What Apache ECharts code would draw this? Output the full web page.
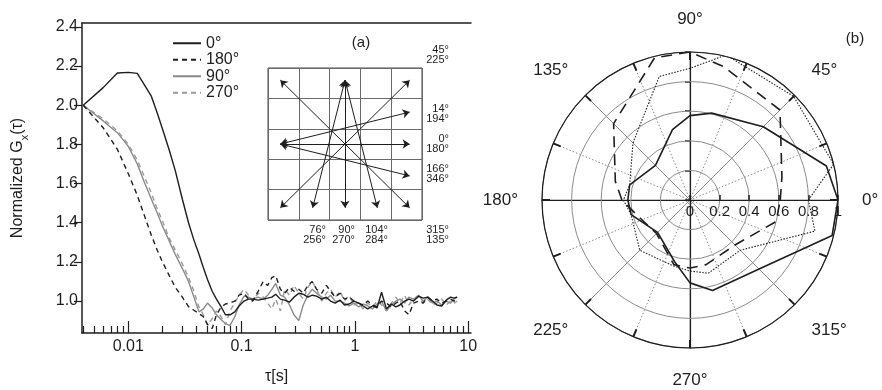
<!DOCTYPE html>
<html>
<head>
<meta charset="utf-8">
<script src="https://cdn.jsdelivr.net/npm/echarts@6/dist/echarts.min.js"></script>
<style>
  html, body { margin: 0; padding: 0; background: #fff; }
  #chart { width: 882px; height: 390px; }
</style>
</head>
<body>
<div id="chart"></div>
<script>
// (a) normalized autocorrelation vs lag time
const tau = [0.004, 0.006, 0.008, 0.010, 0.012, 0.014, 0.016, 0.018, 0.020, 0.023,
  0.026, 0.030, 0.034, 0.038, 0.042, 0.046, 0.050, 0.055, 0.060, 0.066,
  0.072, 0.079, 0.087, 0.095, 0.105, 0.115, 0.125, 0.14, 0.155, 0.17,
  0.185, 0.20, 0.22, 0.24, 0.265, 0.29, 0.32, 0.35, 0.385, 0.42,
  0.46, 0.51, 0.56, 0.61, 0.67, 0.74, 0.81, 0.89, 0.98, 1.08,
  1.18, 1.3, 1.43, 1.57, 1.72, 1.9, 2.1, 2.3, 2.5, 2.75,
  3.0, 3.3, 3.65, 4.0, 4.4, 4.85, 5.3, 5.85, 6.4, 7.0, 7.5, 8.0];
const g0 = [2.00, 2.09, 2.165, 2.168, 2.163, 2.10, 2.045, 1.96, 1.88, 1.77,
  1.665, 1.52, 1.40, 1.31, 1.24, 1.17, 1.11, 1.05, 1.01, 0.97,
  0.93, 0.93, 0.945, 0.975, 1.00, 1.01, 1.01, 1.005, 1.01, 1.015,
  1.02, 1.035, 1.01, 1.005, 0.995, 1.02, 1.04, 1.035, 1.02, 1.03,
  1.025, 1.01, 1.02, 1.00, 0.99, 1.005, 0.98, 0.985, 1.00, 0.99,
  0.975, 0.96, 0.975, 0.965, 1.045, 0.96, 0.985, 0.97, 0.98, 1.00,
  1.01, 1.00, 1.025, 1.015, 1.02, 1.00, 0.98, 0.975, 1.005, 1.02, 1.015, 1.02];
const g180 = [2.00, 1.885, 1.775, 1.65, 1.54, 1.43, 1.335, 1.26, 1.20, 1.13,
  1.07, 1.02, 0.972, 0.953, 0.936, 0.92, 0.88, 0.86, 0.93, 0.97,
  0.985, 0.99, 1.00, 1.03, 1.04, 1.01, 1.00, 1.05, 1.10, 1.08,
  1.12, 1.13, 1.06, 1.04, 1.07, 1.05, 1.06, 1.04, 1.08, 1.10,
  1.06, 1.04, 1.08, 1.05, 1.02, 1.04, 1.01, 1.02, 1.00, 0.99,
  0.98, 1.00, 0.98, 0.97, 1.00, 0.99, 0.97, 0.99, 1.00, 0.95,
  0.93, 0.99, 1.00, 0.99, 1.02, 1.00, 1.01, 0.99, 1.00, 1.01, 1.00, 1.01];
const g90 = [2.00, 1.92, 1.86, 1.79, 1.70, 1.60, 1.52, 1.45, 1.383, 1.306,
  1.238, 1.166, 1.10, 1.02, 0.945, 0.96, 0.99, 0.965, 0.93, 0.905,
  0.885, 0.875, 0.92, 0.98, 1.025, 1.02, 1.01, 1.02, 1.01, 1.03,
  1.06, 1.09, 1.03, 1.02, 0.98, 0.93, 0.90, 0.98, 1.03, 1.06,
  1.04, 1.02, 1.01, 1.03, 1.00, 1.00, 0.99, 0.975, 0.99, 0.97,
  0.985, 0.975, 0.96, 0.985, 1.00, 0.95, 0.98, 1.00, 1.01, 0.99,
  1.02, 1.01, 1.03, 1.00, 1.02, 0.99, 1.00, 0.98, 1.00, 0.99, 1.01, 1.02];
const g270 = [2.00, 1.93, 1.87, 1.80, 1.72, 1.63, 1.55, 1.47, 1.41, 1.32,
  1.26, 1.19, 1.12, 1.05, 0.97, 0.93, 0.88, 0.91, 0.95, 0.92,
  0.88, 0.95, 0.99, 1.03, 1.06, 1.03, 1.00, 1.04, 1.02, 0.99,
  0.96, 1.01, 0.95, 1.06, 1.03, 1.08, 1.04, 1.01, 1.07, 1.10,
  1.06, 1.00, 1.04, 1.06, 1.02, 1.05, 1.00, 1.03, 0.98, 0.99,
  0.96, 0.99, 0.97, 1.00, 0.98, 0.95, 0.99, 1.02, 0.99, 1.03,
  0.98, 1.01, 1.02, 0.99, 1.01, 0.98, 0.99, 1.01, 0.98, 1.00, 0.99, 1.00];
const seriesNames = ['0°', '180°', '90°', '270°'];
const yTicks = [1.0, 1.2, 1.4, 1.6, 1.8, 2.0, 2.2, 2.4];
const xMajor = [0.01, 0.1, 1, 10];
const xMinor = [0.004, 0.005, 0.006, 0.007, 0.008, 0.009,
  0.02, 0.03, 0.04, 0.05, 0.06, 0.07, 0.08, 0.09,
  0.2, 0.3, 0.4, 0.5, 0.6, 0.7, 0.8, 0.9,
  2, 3, 4, 5, 6, 7, 8, 9];

// inset: double-headed arrows in grid cells [x1, y1, x2, y2]
const arrows = [
  [0.4, 0.4, 4.6, 4.6],
  [0.4, 4.6, 4.6, 0.4],
  [0.4, 2.5, 4.6, 2.5],
  [0.4, 2.5, 4.6, 3.55],
  [0.4, 2.5, 4.6, 1.45],
  [2.5, 4.6, 2.5, 0.4],
  [2.5, 4.6, 1.45, 0.4],
  [2.5, 4.6, 3.55, 0.4]
];
const sideLabels = [['45°', '225°'], ['14°', '194°'], ['0°', '180°'], ['166°', '346°'], ['315°', '135°']];
const bottomLabels = [['76°', '256°'], ['90°', '270°'], ['104°', '284°']];

// (b) polar amplitude vs direction
const polarAngles = [0, 14, 45, 76, 90, 104, 135, 166, 180, 194, 225, 256, 270, 284, 315, 346];
const rSolid = [1.0, 0.95, 0.70, 0.605, 0.57, 0.49, 0.33, 0.42, 0.42, 0.41, 0.31, 0.43, 0.56, 0.63, 0.66, 0.99];
const rDashed = [0.61, 0.64, 0.86, 0.93, 1.0, 0.99, 0.73, 0.52, 0.46, 0.38, 0.32, 0.45, 0.46, 0.45, 0.43, 0.60];
const rDotted = [0.80, 1.0, 0.99, 1.01, 0.89, 0.86, 0.545, 0.42, 0.45, 0.41, 0.48, 0.46, 0.48, 0.51, 0.48, 0.87];

const FONT = "'Liberation Sans', Arial, sans-serif";
const INK = '#1e1e1e';
const GREY = '#8c8c8c';
const CTR = [690, 200];
const RAD = 148;

const chart = echarts.init(document.getElementById('chart'));

function fmtLog(v) {
  const p = Math.round(Math.log10(v));
  return p < 0 ? Math.pow(10, p).toFixed(-p) : String(Math.pow(10, p));
}

function gSeries(i, vals, color, type, z) {
  return {
    name: seriesNames[i], type: 'line', xAxisIndex: 0, yAxisIndex: 0,
    data: tau.map((t, k) => [t, vals[k]]),
    symbol: 'none', lineStyle: { color: color, width: 1.4, type: type },
    itemStyle: { color: color }, z: z, silent: true
  };
}

function pSeries(name, vals, type, width) {
  const pts = polarAngles.map((a, k) => [vals[k], a]);
  pts.push([vals[0], 360]);
  return {
    name: name, type: 'line', coordinateSystem: 'polar', polarIndex: 0,
    data: pts, symbol: 'none', silent: true, z: 5,
    lineStyle: { color: INK, width: width, type: type }
  };
}

const hidden = { show: false };
function plainAngle(idx, start, split) {
  return {
    polarIndex: idx, type: 'value', min: 0, max: 360, interval: 45,
    startAngle: start, clockwise: false,
    axisLine: hidden, axisTick: hidden, axisLabel: hidden,
    splitLine: split ? { show: true, lineStyle: split } : hidden
  };
}
function plainRadius(idx, showLine, ticks) {
  return {
    polarIndex: idx, type: 'value', min: 0, max: 1, interval: 0.2,
    axisLine: { show: showLine, lineStyle: { color: INK, width: 1.2 } },
    axisTick: ticks ? { show: true, length: 5, lineStyle: { color: INK, width: 1.5 } } : hidden,
    axisLabel: hidden, splitLine: hidden
  };
}

const graphics = [
  { type: 'text', x: 361, y: 43, style: { text: '(a)', font: '15px ' + FONT, fill: INK, align: 'center', verticalAlign: 'middle' } },
  { type: 'text', x: 855, y: 39, style: { text: '(b)', font: '15px ' + FONT, fill: INK, align: 'center', verticalAlign: 'middle' } }
];
const sideY = [50, 109, 139, 169, 230];
sideLabels.forEach((pair, k) => {
  graphics.push({ type: 'text', x: 449, y: sideY[k], style: { text: pair[0], font: '11px ' + FONT, fill: INK, align: 'right', verticalAlign: 'middle' } });
  graphics.push({ type: 'text', x: 449, y: sideY[k] + 10, style: { text: pair[1], font: '11px ' + FONT, fill: INK, align: 'right', verticalAlign: 'middle' } });
});
const bottomX = [326, 355, 388];
bottomLabels.forEach((pair, k) => {
  graphics.push({ type: 'text', x: bottomX[k], y: 230, style: { text: pair[0], font: '11px ' + FONT, fill: INK, align: 'right', verticalAlign: 'middle' } });
  graphics.push({ type: 'text', x: bottomX[k], y: 240, style: { text: pair[1], font: '11px ' + FONT, fill: INK, align: 'right', verticalAlign: 'middle' } });
});

const option = {
  animation: false,
  backgroundColor: '#fff',
  textStyle: { fontFamily: FONT },
  legend: {
    data: seriesNames, orient: 'vertical', left: 172, top: 35,
    itemWidth: 28, itemHeight: 10, itemGap: 0, padding: 0,
    itemStyle: { opacity: 0 },
    textStyle: { fontSize: 16, color: INK, fontFamily: FONT, lineHeight: 16.5 }
  },
  grid: [
    { left: 82, top: 23, width: 389, height: 311 },
    { left: 268, top: 68, width: 154, height: 152, show: true, borderColor: '#444', borderWidth: 1 }
  ],
  xAxis: [
    {
      gridIndex: 0, type: 'log', logBase: 10, min: 0.0039, max: 10.6, position: 'bottom',
      axisLine: { lineStyle: { color: INK, width: 1.5 } },
      axisTick: { inside: true, length: 12, customValues: xMajor, lineStyle: { color: INK, width: 1.2 } },
      axisLabel: { customValues: xMajor, formatter: fmtLog, fontSize: 16, color: INK, margin: 6 },
      splitLine: hidden,
      name: 'τ[s]', nameLocation: 'middle', nameGap: 36,
      nameTextStyle: { fontSize: 16, color: INK }
    },
    {
      gridIndex: 0, type: 'log', logBase: 10, min: 0.0039, max: 10.6, position: 'bottom',
      axisLine: hidden,
      axisTick: { inside: true, length: 7, customValues: xMinor, lineStyle: { color: INK, width: 1.2 } },
      axisLabel: hidden, splitLine: hidden
    },
    {
      gridIndex: 0, type: 'log', logBase: 10, min: 0.0039, max: 10.6, position: 'top',
      axisLine: { lineStyle: { color: INK, width: 1.5 } },
      axisTick: hidden, axisLabel: hidden, splitLine: hidden
    },
    {
      gridIndex: 1, type: 'value', min: 0, max: 5, interval: 1,
      axisLine: hidden, axisTick: hidden, axisLabel: hidden,
      splitLine: { show: true, lineStyle: { color: '#6a6a6a', width: 1 } }
    }
  ],
  yAxis: [
    {
      gridIndex: 0, type: 'value', min: 0.837, max: 2.42,
      axisLine: { show: true, lineStyle: { color: INK, width: 1.5 } },
      axisTick: { show: true, length: 8, customValues: yTicks, lineStyle: { color: INK, width: 1.2 } },
      axisLabel: { customValues: yTicks, formatter: v => v.toFixed(1), fontSize: 16, color: INK, margin: 4 },
      splitLine: hidden,
      name: 'Normalized G{s|x}(τ)', nameLocation: 'middle', nameRotate: 90, nameGap: 52,
      nameTextStyle: {
        fontSize: 16, color: INK,
        rich: { s: { fontSize: 11, lineHeight: 24, verticalAlign: 'bottom', color: INK } }
      }
    },
    {
      gridIndex: 1, type: 'value', min: 0, max: 5, interval: 1,
      axisLine: hidden, axisTick: hidden, axisLabel: hidden,
      splitLine: { show: true, lineStyle: { color: '#6a6a6a', width: 1 } }
    }
  ],
  polar: [0, 1, 2, 3, 4].map(() => ({ center: CTR, radius: RAD })),
  angleAxis: [
    {
      polarIndex: 0, type: 'value', min: 0, max: 360, interval: 22.5,
      startAngle: 0, clockwise: false, z: 4,
      axisLine: { lineStyle: { color: INK, width: 1.2 } },
      axisTick: { inside: true, length: 8, lineStyle: { color: INK, width: 2 } },
      axisLabel: {
        margin: 24, fontSize: 17, color: INK,
        formatter: v => (v % 45 === 0 && v < 360) ? v + '°' : ''
      },
      splitLine: hidden
    },
    plainAngle(1, 90, { color: GREY, width: 1 }),
    plainAngle(2, 22.5, { color: GREY, width: 1, type: [1.5, 2] }),
    plainAngle(3, 180, null),
    plainAngle(4, 270, null)
  ],
  radiusAxis: [
    {
      polarIndex: 0, type: 'value', min: 0, max: 1, interval: 0.2, z: 4,
      axisLine: { lineStyle: { color: INK, width: 1.2 } },
      axisTick: { length: 5, lineStyle: { color: INK, width: 1.5 } },
      axisLabel: {
        fontSize: 15, color: INK, margin: -19,
        formatter: v => (v === 0 || v === 1) ? String(v) : v.toFixed(1)
      },
      splitLine: { show: true, lineStyle: { color: GREY, width: 1 } }
    },
    plainRadius(1, true, true),
    plainRadius(2, false, false),
    plainRadius(3, true, false),
    plainRadius(4, true, false)
  ],
  graphic: graphics,
  series: [
    gSeries(2, g90, '#8a8a8a', 'solid', 2),
    gSeries(3, g270, '#9a9a9a', [5, 4], 2),
    gSeries(1, g180, INK, [5, 4], 3),
    gSeries(0, g0, INK, 'solid', 4),
    {
      name: 'arrows', type: 'lines', coordinateSystem: 'cartesian2d',
      xAxisIndex: 3, yAxisIndex: 1, symbol: ['arrow', 'arrow'], symbolSize: 7,
      lineStyle: { color: INK, width: 1, opacity: 1 }, silent: true, z: 5,
      data: arrows.map(a => ({ coords: [[a[0], a[1]], [a[2], a[3]]] }))
    },
    pSeries('p0', rSolid, 'solid', 1.6),
    pSeries('p180', rDashed, [11, 7], 1.6),
    pSeries('p90', rDotted, [1.5, 1.5], 1.1)
  ]
};

chart.setOption(option);
</script>
</body>
</html>
